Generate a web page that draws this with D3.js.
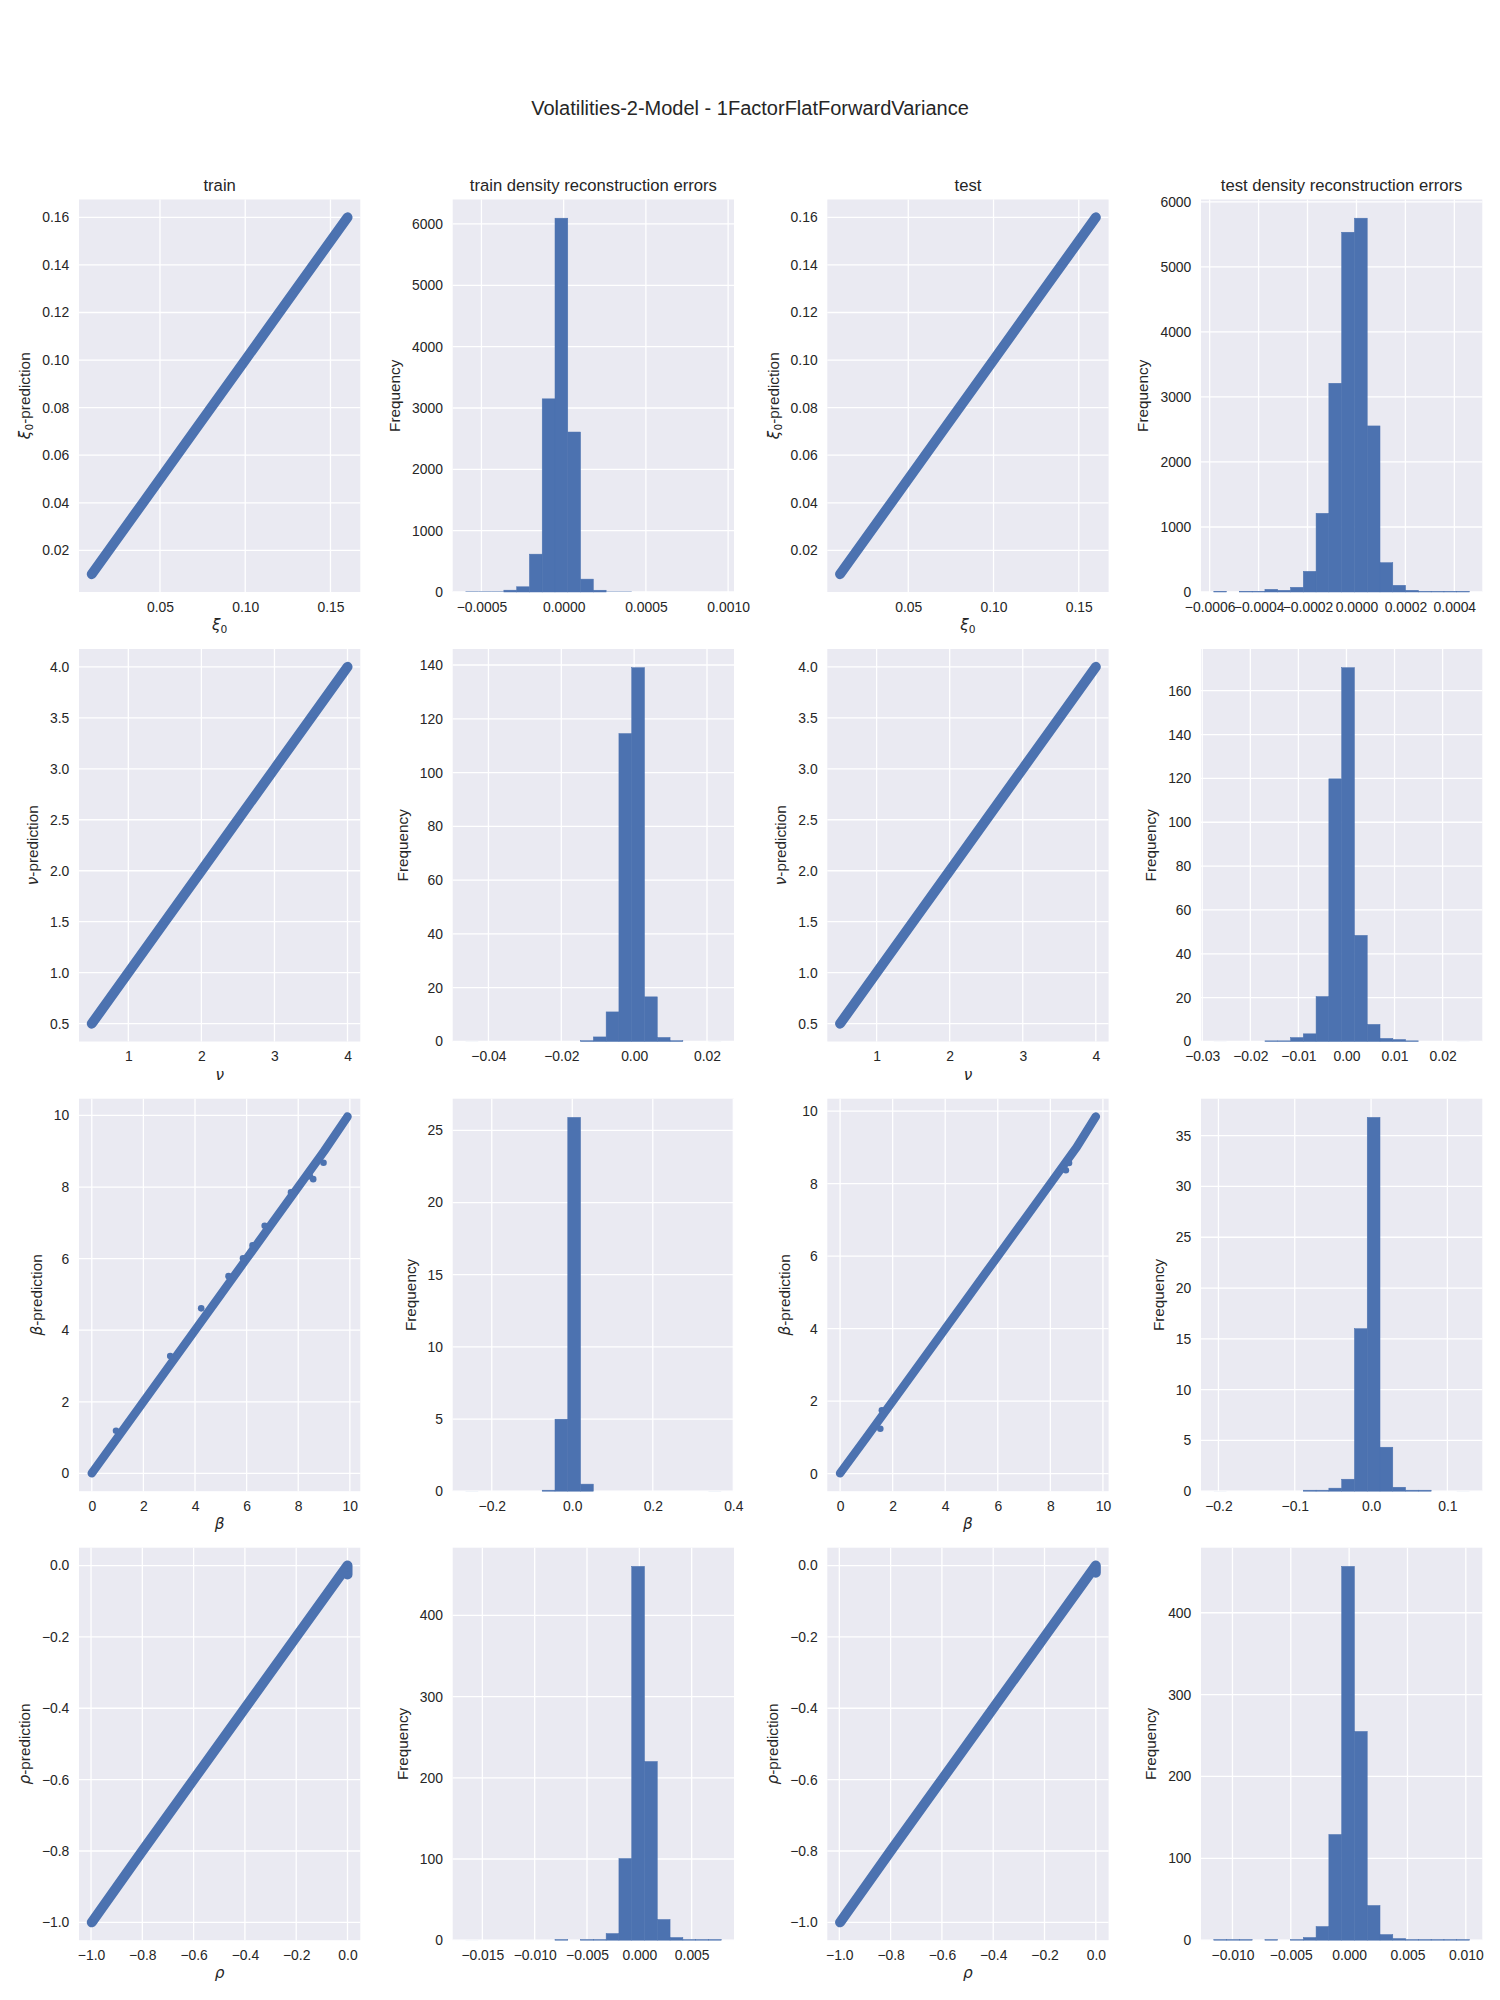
<!DOCTYPE html>
<html><head><meta charset="utf-8">
<script src="https://cdn.jsdelivr.net/npm/d3@7"></script>
<style>body{margin:0;background:#fff} svg{display:block}</style>
</head><body>
<svg id="chart" width="1500" height="2000"></svg>
<script>
// ---------------- DATA ----------------
const figureTitle = "Volatilities-2-Model - 1FactorFlatForwardVariance";
const columnTitles = ["train", "train density reconstruction errors", "test", "test density reconstruction errors"];
const paramSymbols = ["ξ", "ν", "β", "ρ"];
const paramSubscripts = ["0", "", "", ""];
const histYLabel = "Frequency";

// scatter: true value vs prediction (dense diagonal band)
const xi0TrainTrue = [0.010, 0.040, 0.070, 0.100, 0.130, 0.160];
const xi0TrainPred = [0.010, 0.040, 0.070, 0.100, 0.130, 0.160];
const xi0TestTrue  = [0.010, 0.040, 0.070, 0.100, 0.130, 0.160];
const xi0TestPred  = [0.010, 0.040, 0.070, 0.100, 0.130, 0.160];
const nuTrainTrue  = [0.5, 1.0, 1.5, 2.0, 2.5, 3.0, 3.5, 4.0];
const nuTrainPred  = [0.5, 1.0, 1.5, 2.0, 2.5, 3.0, 3.5, 4.0];
const nuTestTrue   = [0.5, 1.0, 1.5, 2.0, 2.5, 3.0, 3.5, 4.0];
const nuTestPred   = [0.5, 1.0, 1.5, 2.0, 2.5, 3.0, 3.5, 4.0];
const betaTrainTrue = [0.0, 1.0, 2.0, 3.0, 4.0, 5.0, 6.0, 7.0, 8.0, 9.0, 9.91];
const betaTrainPred = [0.0, 1.0, 2.0, 3.0, 4.0, 5.0, 6.0, 7.0, 8.0, 9.0, 9.97];
const betaTestTrue  = [0.0, 1.0, 2.0, 3.0, 4.0, 5.0, 6.0, 7.0, 8.0, 9.0, 9.73];
const betaTestPred  = [0.01, 1.0, 2.0, 3.0, 4.0, 5.0, 6.0, 7.0, 8.0, 9.0, 9.85];
const rhoTrainTrue = [-0.997, -0.8, -0.6, -0.4, -0.2, 0.0, 0.0];
const rhoTrainPred = [-1.0, -0.8, -0.6, -0.4, -0.2, 0.0, -0.025];
const rhoTestTrue  = [-0.997, -0.8, -0.6, -0.4, -0.2, 0.0, 0.0];
const rhoTestPred  = [-1.0, -0.8, -0.6, -0.4, -0.2, 0.0, -0.02];
// scattered points off the band
const betaTrainOutTrue = [0.94, 3.04, 4.24, 5.30, 5.86, 6.23, 6.70, 7.05, 7.72, 8.45, 8.58, 8.98];
const betaTrainOutPred = [1.19, 3.28, 4.61, 5.51, 6.01, 6.37, 6.92, 7.04, 7.85, 8.30, 8.22, 8.68];
const betaTestOutTrue  = [1.53, 1.59, 8.52, 8.59, 8.71];
const betaTestOutPred  = [1.24, 1.75, 8.41, 8.37, 8.57];

// scatter ticks
const xi0XTicks = [0.05, 0.10, 0.15];
const xi0YTicks = [0.02, 0.04, 0.06, 0.08, 0.10, 0.12, 0.14, 0.16];
const nuXTicks = [1, 2, 3, 4];
const nuYTicks = [0.5, 1.0, 1.5, 2.0, 2.5, 3.0, 3.5, 4.0];
const betaTicks = [0, 2, 4, 6, 8, 10];
const rhoTicks = [-1.0, -0.8, -0.6, -0.4, -0.2, 0.0];

// histograms: error range (first/last bin edge) and 20 bin densities
const xi0TrainErrRange = [-0.000597, 0.000958];
const xi0TrainErrDensity = [8, 8, 8, 30, 85, 617, 3149, 6094, 2608, 210, 29, 6, 6, 0, 0, 0, 0, 0, 0, 0.1];
const xi0TestErrRange = [-0.000583, 0.000462];
const xi0TestErrDensity = [10, 0, 10, 10, 41, 26, 72, 318, 1210, 3210, 5533, 5749, 2554, 451, 103, 26, 8, 8, 8, 8];
const nuTrainErrRange = [-0.0463, 0.0239];
const nuTrainErrDensity = [0.02, 0, 0, 0, 0, 0, 0, 0, 0, 0.3, 1.7, 11.0, 114.5, 139.0, 16.6, 1.5, 0.3, 0, 0, 0.02];
const nuTestErrRange = [-0.0276, 0.0256];
const nuTestErrDensity = [0.02, 0, 0, 0, 0.3, 0.3, 1.8, 3.5, 20.5, 119.8, 170.5, 48.4, 7.8, 1.4, 0.9, 0.3, 0, 0, 0, 0.02];
const betaTrainErrRange = [-0.2653, 0.3700];
const betaTrainErrDensity = [0.005, 0, 0, 0, 0, 0, 0.07, 4.99, 25.9, 0.49, 0, 0, 0, 0, 0, 0, 0, 0, 0, 0.005];
const betaTestErrRange = [-0.2061, 0.1290];
const betaTestErrDensity = [0.005, 0, 0, 0, 0, 0, 0, 0.1, 0.1, 0.3, 1.18, 16.0, 36.8, 4.33, 0.39, 0.1, 0.1, 0, 0, 0.005];
const rhoTrainErrRange = [-0.01661, 0.007822];
const rhoTrainErrDensity = [0.05, 0, 0, 0, 0, 0, 0, 0.8, 0, 0.8, 0.8, 8.2, 100.6, 460.4, 220.1, 25.5, 3.3, 0.8, 0.8, 0.8];
const rhoTestErrRange = [-0.0116, 0.010316];
const rhoTestErrDensity = [0.8, 0.8, 0.8, 0, 0.8, 0, 0.8, 3.3, 16.7, 129.1, 456.6, 255, 42.4, 6.9, 2.0, 0.8, 0.8, 0.8, 0.8, 0.8];

// histogram ticks
const xi0TrainErrTicks = [-0.0005, 0, 0.0005, 0.0010];
const xi0TestErrTicks = [-0.0006, -0.0004, -0.0002, 0, 0.0002, 0.0004];
const xi0FreqTicks = [0, 1000, 2000, 3000, 4000, 5000, 6000];
const nuTrainErrTicks = [-0.04, -0.02, 0, 0.02];
const nuTrainFreqTicks = [0, 20, 40, 60, 80, 100, 120, 140];
const nuTestErrTicks = [-0.03, -0.02, -0.01, 0, 0.01, 0.02];
const nuTestFreqTicks = [0, 20, 40, 60, 80, 100, 120, 140, 160];
const betaTrainErrTicks = [-0.2, 0, 0.2, 0.4];
const betaTrainFreqTicks = [0, 5, 10, 15, 20, 25];
const betaTestErrTicks = [-0.2, -0.1, 0, 0.1];
const betaTestFreqTicks = [0, 5, 10, 15, 20, 25, 30, 35];
const rhoTrainErrTicks = [-0.015, -0.010, -0.005, 0, 0.005];
const rhoTestErrTicks = [-0.010, -0.005, 0, 0.005, 0.010];
const rhoFreqTicks = [0, 100, 200, 300, 400];

// ---------------- LAYOUT / STYLE ----------------
const colLeft = [79, 452.7, 827.3, 1201];
const axW = 281.3;
const rowTop = [199.5, 649, 1098.7, 1547.7];
const axH = 392.5;
const BLUE = "#4c72b0", BG = "#eaeaf2", TXT = "#262626";
const FONT = "'Liberation Sans', Arial, Helvetica, sans-serif";
const MATH = "'DejaVu Sans', sans-serif";
const TICK_FS = 13.9, LABEL_FS = 15.3, TITLE_FS = 16.67, SUP_FS = 20;

const svg = d3.select("#chart");
svg.append("rect").attr("width", 1500).attr("height", 2000).attr("fill", "#fff");

svg.append("text").attr("x", 750).attr("y", 115).attr("text-anchor", "middle")
  .attr("font-family", FONT).attr("font-size", SUP_FS).attr("fill", TXT).text(figureTitle);

function padExtent(a, b) { const r = b - a; return [a - 0.05 * r, b + 0.05 * r]; }

function drawFrame(g, x, y, xticks, yticks, xfmt, yfmt) {
  g.append("rect").attr("width", axW).attr("height", axH).attr("fill", BG);
  g.append("g").selectAll("line").data(xticks).join("line")
    .attr("x1", d => x(d)).attr("x2", d => x(d)).attr("y1", 0).attr("y2", axH)
    .attr("stroke", "#fff").attr("stroke-width", 1.3);
  g.append("g").selectAll("line").data(yticks).join("line")
    .attr("y1", d => y(d)).attr("y2", d => y(d)).attr("x1", 0).attr("x2", axW)
    .attr("stroke", "#fff").attr("stroke-width", 1.3);
  const xa = g.append("g").attr("transform", `translate(0,${axH})`)
    .call(d3.axisBottom(x).tickValues(xticks).tickFormat(d3.format(xfmt)).tickSize(0).tickPadding(9.7));
  xa.select(".domain").remove();
  xa.attr("font-family", FONT).attr("font-size", TICK_FS);
  xa.selectAll("text").attr("fill", TXT);
  const ya = g.append("g")
    .call(d3.axisLeft(y).tickValues(yticks).tickFormat(d3.format(yfmt)).tickSize(0).tickPadding(9.7));
  ya.select(".domain").remove();
  ya.attr("font-family", FONT).attr("font-size", TICK_FS);
  ya.selectAll("text").attr("fill", TXT);
  return ya.node().getBBox().x;
}

function mathLabel(t, sym, sub, suffix) {
  t.append("tspan").attr("font-family", MATH).attr("font-style", "italic").text(sym);
  if (sub) {
    t.append("tspan").attr("font-family", MATH).attr("font-size", LABEL_FS * 0.7).attr("dy", 3.2).text(sub);
    if (suffix) t.append("tspan").attr("dy", -3.2).text(suffix);
  } else if (suffix) {
    t.append("tspan").text(suffix);
  }
}

function scatterPanel(row, col, tv, pv, otv, opv, xticks, yticks, xfmt, yfmt, bandW) {
  const g = svg.append("g").attr("transform", `translate(${colLeft[col]},${rowTop[row]})`);
  const allX = tv.concat(otv), allY = pv.concat(opv);
  const x = d3.scaleLinear().domain(padExtent(d3.min(allX), d3.max(allX))).range([0, axW]);
  const y = d3.scaleLinear().domain(padExtent(d3.min(allY), d3.max(allY))).range([axH, 0]);
  const tickLeft = drawFrame(g, x, y, xticks, yticks, xfmt, yfmt);
  const pts = d3.zip(tv, pv);
  g.append("path").datum(pts)
    .attr("d", d3.line().x(d => x(d[0])).y(d => y(d[1])))
    .attr("fill", "none").attr("stroke", BLUE).attr("stroke-width", bandW)
    .attr("stroke-linecap", "round").attr("stroke-linejoin", "round");
  g.append("g").selectAll("circle").data(pts.concat(d3.zip(otv, opv))).join("circle")
    .attr("cx", d => x(d[0])).attr("cy", d => y(d[1])).attr("r", 3.3).attr("fill", BLUE);
  const xl = g.append("text").attr("x", axW / 2).attr("y", axH + 38).attr("text-anchor", "middle")
    .attr("font-family", FONT).attr("font-size", LABEL_FS).attr("fill", TXT);
  mathLabel(xl, paramSymbols[row], paramSubscripts[row], "");
  const yl = g.append("text").attr("transform", `translate(${tickLeft - 12},${axH / 2}) rotate(-90)`)
    .attr("text-anchor", "middle").attr("font-family", FONT).attr("font-size", LABEL_FS).attr("fill", TXT);
  mathLabel(yl, paramSymbols[row], paramSubscripts[row], "-prediction");
  if (row === 0) colTitle(g, col);
}

function histPanel(row, col, range, dens, xticks, yticks, xfmt) {
  const g = svg.append("g").attr("transform", `translate(${colLeft[col]},${rowTop[row]})`);
  const x = d3.scaleLinear().domain(padExtent(range[0], range[1])).range([0, axW]);
  const y = d3.scaleLinear().domain([0, d3.max(dens) * 1.05]).range([axH, 0]);
  const tickLeft = drawFrame(g, x, y, xticks, yticks, xfmt, "d");
  const n = dens.length, w = (range[1] - range[0]) / n;
  const bins = dens.map((h, i) => ({ x0: range[0] + i * w, x1: range[0] + (i + 1) * w, h }));
  g.append("g").selectAll("rect").data(bins.filter(b => b.h > 0)).join("rect")
    .attr("x", d => x(d.x0)).attr("width", d => x(d.x1) - x(d.x0))
    .attr("y", d => y(d.h)).attr("height", d => axH - y(d.h))
    .attr("fill", BLUE)
    .attr("stroke", d => (axH - y(d.h)) > 0.5 ? BLUE : "none").attr("stroke-width", 0.5);
  g.append("text").attr("transform", `translate(${tickLeft - 12},${axH / 2}) rotate(-90)`)
    .attr("text-anchor", "middle").attr("font-family", FONT).attr("font-size", LABEL_FS).attr("fill", TXT)
    .text(histYLabel);
  if (row === 0) colTitle(g, col);
}

function colTitle(g, col) {
  g.append("text").attr("x", axW / 2).attr("y", -8.3).attr("text-anchor", "middle")
    .attr("font-family", FONT).attr("font-size", TITLE_FS).attr("fill", TXT).text(columnTitles[col]);
}

// row 0: xi0
scatterPanel(0, 0, xi0TrainTrue, xi0TrainPred, [], [], xi0XTicks, xi0YTicks, ".2f", ".2f", 10);
histPanel(0, 1, xi0TrainErrRange, xi0TrainErrDensity, xi0TrainErrTicks, xi0FreqTicks, ".4f");
scatterPanel(0, 2, xi0TestTrue, xi0TestPred, [], [], xi0XTicks, xi0YTicks, ".2f", ".2f", 10);
histPanel(0, 3, xi0TestErrRange, xi0TestErrDensity, xi0TestErrTicks, xi0FreqTicks, ".4f");
// row 1: nu
scatterPanel(1, 0, nuTrainTrue, nuTrainPred, [], [], nuXTicks, nuYTicks, "d", ".1f", 10);
histPanel(1, 1, nuTrainErrRange, nuTrainErrDensity, nuTrainErrTicks, nuTrainFreqTicks, ".2f");
scatterPanel(1, 2, nuTestTrue, nuTestPred, [], [], nuXTicks, nuYTicks, "d", ".1f", 10);
histPanel(1, 3, nuTestErrRange, nuTestErrDensity, nuTestErrTicks, nuTestFreqTicks, ".2f");
// row 2: beta
scatterPanel(2, 0, betaTrainTrue, betaTrainPred, betaTrainOutTrue, betaTrainOutPred, betaTicks, betaTicks, "d", "d", 8.5);
histPanel(2, 1, betaTrainErrRange, betaTrainErrDensity, betaTrainErrTicks, betaTrainFreqTicks, ".1f");
scatterPanel(2, 2, betaTestTrue, betaTestPred, betaTestOutTrue, betaTestOutPred, betaTicks, betaTicks, "d", "d", 8.5);
histPanel(2, 3, betaTestErrRange, betaTestErrDensity, betaTestErrTicks, betaTestFreqTicks, ".1f");
// row 3: rho
scatterPanel(3, 0, rhoTrainTrue, rhoTrainPred, [], [], rhoTicks, rhoTicks, ".1f", ".1f", 10);
histPanel(3, 1, rhoTrainErrRange, rhoTrainErrDensity, rhoTrainErrTicks, rhoFreqTicks, ".3f");
scatterPanel(3, 2, rhoTestTrue, rhoTestPred, [], [], rhoTicks, rhoTicks, ".1f", ".1f", 10);
histPanel(3, 3, rhoTestErrRange, rhoTestErrDensity, rhoTestErrTicks, rhoFreqTicks, ".3f");
</script>
</body></html>
